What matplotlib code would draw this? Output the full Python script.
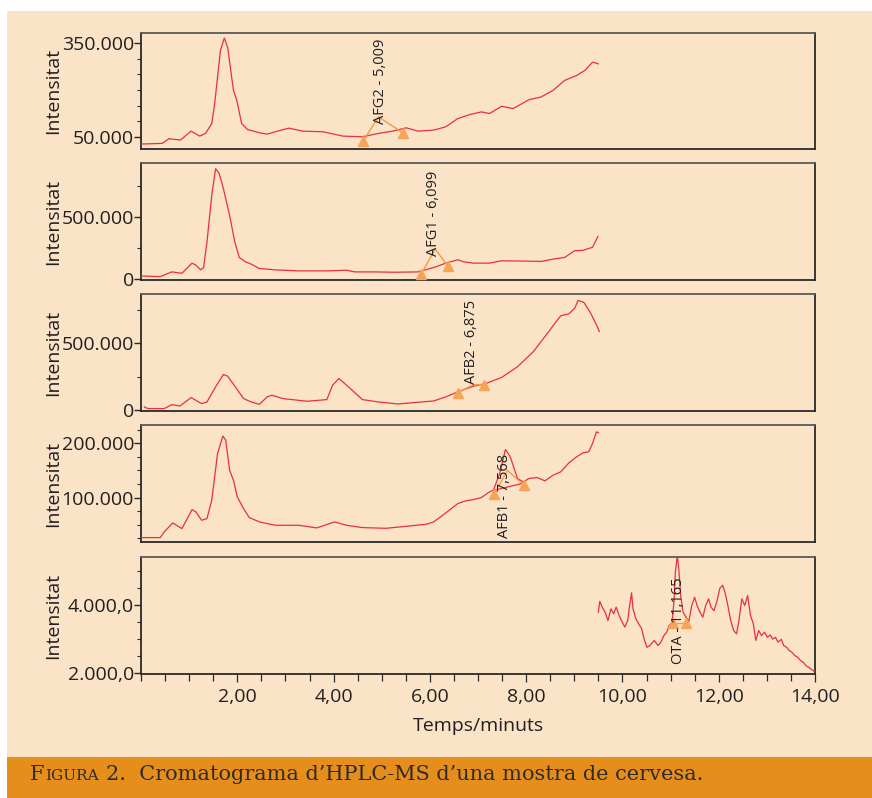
import matplotlib
matplotlib.use('Agg')
import matplotlib.pyplot as plt
from matplotlib.patches import Rectangle
from matplotlib.ticker import FixedLocator, FixedFormatter, MultipleLocator, NullLocator

plt.rcParams['font.family'] = ['Open Sans', 'DejaVu Sans']

# ---------------- data ----------------
# Panel 1 (AFG2)
t1 = [0.00, 0.44, 0.58, 0.82, 1.04, 1.22, 1.34, 1.47, 1.53, 1.65, 1.73, 1.80, 1.92, 1.99, 2.09, 2.21,
      2.46, 2.62, 2.79, 3.07, 3.36, 3.78, 4.19, 4.60, 4.93, 5.26, 5.51, 5.75, 6.08, 6.33, 6.58, 6.83,
      7.07, 7.24, 7.49, 7.73, 8.06, 8.31, 8.56, 8.80, 9.05, 9.22, 9.38, 9.50]
y1 = [26600, 28700, 43600, 39400, 68000, 52100, 60600, 92500, 156000, 326600, 367000, 337000, 199000,
      167000, 92500, 73400, 62800, 58500, 66000, 77700, 68000, 66000, 52100, 50000, 60600, 69100, 78700,
      68000, 71300, 81900, 108500, 121300, 129800, 124500, 147900, 140400, 169100, 177700, 199000,
      230800, 246800, 262800, 289400, 284000]

# Panel 2 (AFG1)
t2 = [0.00, 0.40, 0.64, 0.85, 1.06, 1.14, 1.24, 1.30, 1.37, 1.47, 1.55, 1.62, 1.71, 1.84, 1.95, 2.04,
      2.17, 2.29, 2.46, 2.79, 3.28, 3.86, 4.27, 4.44, 4.85, 5.26, 5.75, 6.08, 6.33, 6.58, 6.70, 6.91,
      7.24, 7.49, 7.98, 8.31, 8.56, 8.80, 9.01, 9.18, 9.38, 9.49]
y2 = [27000, 21600, 59500, 48600, 129700, 113500, 75700, 94600, 297300, 675800, 886600, 851400, 729800,
      513600, 297300, 175700, 140500, 121600, 86500, 75700, 67600, 67600, 73000, 59500, 59500, 56800,
      59500, 94600, 129700, 156800, 140500, 129700, 129700, 148700, 146000, 143300, 162200, 175700,
      229800, 232500, 256800, 343300]

# Panel 3 (AFB2)
t3 = [0.07, 0.15, 0.48, 0.64, 0.81, 1.04, 1.26, 1.37, 1.55, 1.71, 1.80, 1.96, 2.13, 2.29, 2.46, 2.62,
      2.72, 2.95, 3.45, 3.86, 3.98, 4.11, 4.27, 4.60, 4.93, 5.34, 5.75, 6.08, 6.33, 6.58, 6.91, 7.16,
      7.49, 7.82, 8.15, 8.39, 8.60, 8.72, 8.89, 9.01, 9.08, 9.20, 9.34, 9.46, 9.52]
y3 = [25000, 12500, 12500, 42500, 32500, 95000, 50000, 62500, 175000, 267500, 255000, 175000, 87500,
      62500, 45000, 100000, 112500, 87500, 67500, 80000, 187500, 237500, 187500, 80000, 62500, 47500,
      60000, 70000, 100000, 137500, 180000, 200000, 245000, 325000, 437500, 550000, 650000, 705000,
      720000, 762500, 820000, 805000, 725000, 637500, 587500]

# Panel 4 (AFB1)
t4 = [0.00, 0.40, 0.48, 0.66, 0.85, 1.06, 1.14, 1.26, 1.37, 1.47, 1.59, 1.70, 1.76, 1.84, 1.92, 2.00,
      2.13, 2.25, 2.46, 2.79, 3.28, 3.65, 4.02, 4.27, 4.60, 5.09, 5.51, 5.92, 6.08, 6.33, 6.58, 6.74,
      6.91, 7.07, 7.24, 7.32, 7.45, 7.57, 7.67, 7.82, 7.94, 8.06, 8.23, 8.39, 8.56, 8.72, 8.89, 9.05,
      9.18, 9.30, 9.38, 9.46, 9.50]
y4 = [26000, 26000, 36400, 53100, 42600, 77800, 73500, 58000, 61100, 95100, 181400, 213500, 206100,
      150600, 132100, 101200, 79600, 63000, 55000, 48800, 48800, 43900, 55000, 48800, 44500, 43200,
      46900, 50600, 55000, 71600, 88900, 93800, 96300, 100000, 110500, 113600, 144400, 188800, 175300,
      135200, 129000, 135200, 137000, 130800, 141300, 147500, 164200, 175300, 182700, 184500, 200000,
      221500, 219700]

# Panel 5 (OTA)
t5 = [9.50, 9.53, 9.58, 9.64, 9.70, 9.76, 9.82, 9.87, 9.93, 9.99, 10.05, 10.11, 10.14, 10.19, 10.22,
      10.28, 10.34, 10.40, 10.45, 10.51, 10.57, 10.66, 10.74, 10.80, 10.86, 10.92, 10.97, 11.03, 11.07,
      11.10, 11.14, 11.17, 11.21, 11.26, 11.32, 11.38, 11.44, 11.50, 11.55, 11.61, 11.67, 11.73, 11.79,
      11.84, 11.90, 11.96, 12.02, 12.08, 12.13, 12.19, 12.25, 12.31, 12.37, 12.42, 12.48, 12.54, 12.60,
      12.66, 12.72, 12.77, 12.83, 12.89, 12.95, 13.01, 13.07, 13.12, 13.18, 13.23, 13.30, 13.35, 13.41,
      13.47, 13.52, 13.58, 13.64, 13.70, 13.76, 13.81, 13.87, 13.93, 13.99]
y5 = [3785, 4100, 3930, 3785, 3540, 3880, 3740, 3930, 3690, 3510, 3350, 3540, 3880, 4350, 3880, 3590,
      3440, 3300, 3000, 2760, 2810, 2960, 2810, 2910, 3100, 3200, 3395, 3490, 4080, 4960, 5440, 5050,
      4270, 3785, 3640, 3510, 3980, 4220, 3980, 3785, 3640, 3980, 4175, 3930, 3830, 4080, 4470, 4570,
      4370, 3980, 3540, 3250, 3150, 3540, 4175, 3980, 4270, 3690, 3440, 2960, 3250, 3100, 3200, 3050,
      3120, 3000, 3050, 2910, 2990, 2810, 2760, 2660, 2615, 2520, 2470, 2370, 2320, 2225, 2175, 2110,
      2050]

# peak annotations
peak_names = ['AFG2 - 5,009', 'AFG1 - 6,099', 'AFB2 - 6,875', 'AFB1 - 7,568', 'OTA - 11,165']
peak_start_t = [4.62, 5.82, 6.58, 7.34, 11.06]
peak_start_y = [37200, 40500, 132500, 106200, 3470]
peak_apex_t = [4.93, 6.11, 6.90, 7.61, 11.19]
peak_apex_y = [113800, 243300, 190000, 150000, 3470]
peak_end_t = [5.44, 6.37, 7.13, 7.96, 11.32]
peak_end_y = [62800, 108100, 192500, 122800, 3470]
label_t = [4.97, 6.08, 6.87, 7.55, 11.17]
label_y = [92500, 189000, 200000, 181000, 4810]
label_va = ['bottom', 'bottom', 'bottom', 'top', 'top']

# y ticks per panel
yticks_major = [[50000, 350000], [0, 500000], [0, 500000], [100000, 200000], [2000, 4000]]
yticklabels = [['50.000', '350.000'], ['0', '500.000'], ['0', '500.000'],
               ['100.000', '200.000'], ['2.000,0', '4.000,0']]
ylims = [(10700, 383000), (-5400, 932500), (-5000, 867500), (17900, 234000), (1980, 5395)]
yminor_step = [50000, 250000, 250000, 25000, 500]

xticks = [2, 4, 6, 8, 10, 12, 14]
xticklabels = ['2,00', '4,00', '6,00', '8,00', '10,00', '12,00', '14,00']

caption_small_caps = ('F', 'IGURA')
caption_rest = '2.  Cromatograma d\u2019HPLC-MS d\u2019una mostra de cervesa.'

# ---------------- style ----------------
PEACH = '#FAE3C7'
ORANGE = '#E58E1C'
RED = '#E8313C'
ANN = '#F29A4A'
TRI = '#F7A457'
TXT = '#231F20'
FS = 14

W, H = 872, 798
fig = plt.figure(figsize=(W / 100, H / 100), dpi=100, facecolor='white')
fig.patches.append(Rectangle((7 / W, 0), 1 - 7 / W, 1 - 11 / H, transform=fig.transFigure,
                             facecolor=PEACH, edgecolor='none', zorder=-10))
fig.patches.append(Rectangle((7 / W, 0), 1 - 7 / W, (798 - 757) / H, transform=fig.transFigure,
                             facecolor=ORANGE, edgecolor='none', zorder=-9))

panels_px = [(33, 149), (163, 280), (294, 411), (425, 542), (557, 674)]
ts = [t1, t2, t3, t4, t5]
ys = [y1, y2, y3, y4, y5]

for i, (top, bot) in enumerate(panels_px):
    ax = fig.add_axes([141 / W, 1 - bot / H, 674 / W, (bot - top) / H])
    ax.set_facecolor('none')
    ax.plot(ts[i], ys[i], color=RED, lw=0.9, zorder=3)
    ax.set_xlim(0, 14)
    ax.set_ylim(*ylims[i])
    for s in ax.spines.values():
        s.set_color('#2a2a2a')
        s.set_linewidth(1.3)
    ax.spines['top'].set_color('#5a5a5a')
    ax.yaxis.set_major_locator(FixedLocator(yticks_major[i]))
    ax.yaxis.set_major_formatter(FixedFormatter(yticklabels[i]))
    ax.yaxis.set_minor_locator(MultipleLocator(yminor_step[i]))
    ax.tick_params(axis='y', which='major', direction='out', length=5, width=1, color='#2a2a2a',
                   labelsize=FS, labelcolor=TXT, pad=0)
    ax.tick_params(axis='y', which='minor', direction='out', length=3, width=0.8, color='#2a2a2a')
    if i < 4:
        ax.xaxis.set_major_locator(NullLocator())
        ax.xaxis.set_minor_locator(NullLocator())
    else:
        ax.xaxis.set_major_locator(FixedLocator(xticks))
        ax.xaxis.set_major_formatter(FixedFormatter(xticklabels))
        ax.xaxis.set_minor_locator(MultipleLocator(0.5))
        ax.tick_params(axis='x', which='both', direction='out', length=6, width=0.9, color='#2a2a2a',
                       labelsize=FS, labelcolor=TXT, pad=4)
        ax.tick_params(axis='x', which='minor', length=5)
        ax.set_xlabel('Temps/minuts', fontsize=FS, color=TXT, labelpad=8)

    # peak annotation
    ax.plot([peak_start_t[i], peak_apex_t[i], peak_end_t[i]],
            [peak_start_y[i], peak_apex_y[i], peak_end_y[i]], color=ANN, lw=1.0, zorder=4)
    if i == 3:
        ax.plot([peak_start_t[i], peak_end_t[i]], [113600, 127000], color=RED, lw=0.9, zorder=3)
    ax.plot([peak_start_t[i], peak_end_t[i]], [peak_start_y[i], peak_end_y[i]], linestyle='none',
            marker='^', markersize=7, color=TRI, zorder=5)
    ax.text(label_t[i], label_y[i], peak_names[i], rotation=90, ha='center', va=label_va[i],
            fontsize=10.5, color=TXT, zorder=6, clip_on=False)

    fig.text(53 / W, 1 - (top + bot) / 2 / H, 'Intensitat', rotation=90, ha='center', va='center',
             fontsize=FS, color=TXT)

# caption with small caps, placed piece by piece
renderer = fig.canvas.get_renderer()
cap_color = '#2e2b28'
serif = ['DejaVu Serif']
ycap = 1 - 780 / H
x = 30 / W
t_a = fig.text(x, ycap, caption_small_caps[0], fontsize=15, color=cap_color, family=serif,
               ha='left', va='baseline')
bb = t_a.get_window_extent(renderer)
x = bb.x1 / W + 0.5 / W
t_b = fig.text(x, ycap, caption_small_caps[1], fontsize=11, color=cap_color, family=serif,
               ha='left', va='baseline')
bb = t_b.get_window_extent(renderer)
x = bb.x1 / W + 7 / W
fig.text(x, ycap, caption_rest, fontsize=15, color=cap_color, family=serif, ha='left', va='baseline')

fig.savefig('out.png', dpi=100, facecolor=fig.get_facecolor())
